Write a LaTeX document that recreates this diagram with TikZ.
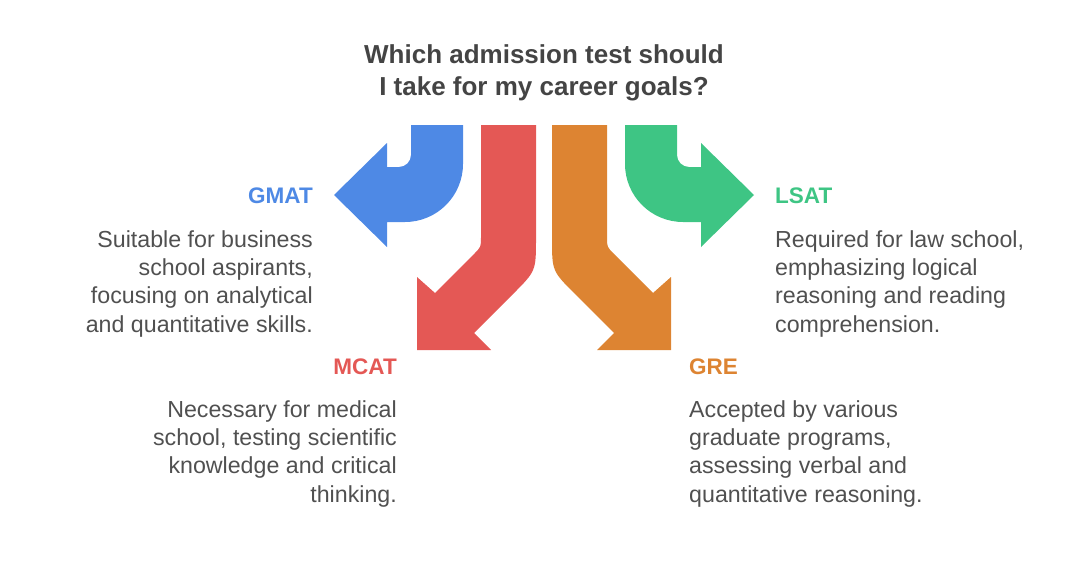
\documentclass[tikz,border=0pt]{standalone}
\usepackage{fontspec}
\setmainfont{Liberation Sans}
\definecolor{gmatblue}{HTML}{4E89E5}
\definecolor{mcatred}{HTML}{E45855}
\definecolor{greorange}{HTML}{DD8432}
\definecolor{lsatgreen}{HTML}{3EC584}
\definecolor{bodygray}{HTML}{505050}
\definecolor{titlegray}{HTML}{444444}
\begin{document}
\begin{tikzpicture}[x=1pt,y=-1pt,
    every node/.style={inner sep=0pt},
    title/.style={font=\fontsize{26}{32}\selectfont\bfseries, text=titlegray, align=center},
    testname/.style={font=\fontsize{22.5}{28}\selectfont\bfseries},
    blurb/.style={font=\fontsize{23.2}{28.3}\selectfont, text=bodygray}]
        \useasboundingbox (0,0) rectangle (1080,565);
        % title
        \node[title, anchor=base] (question) at (544,95) {Which admission test should\\I take for my career goals?};
        % arrows
        \fill [gmatblue] (411,125) -- (411,155) .. controls (411,161.6) and (405.6,167) .. (399,167) -- (387,167) -- (387,143) -- (334,195) -- (387,247) -- (387,222) -- (405,222) .. controls (437,222) and (463,196) .. (463,164) -- (463,125) -- cycle;
        \fill [mcatred] (481,125) -- (481,237) .. controls (481,247) .. (474,254) -- (435,293) -- (417,277) -- (417,350) -- (491,350) -- (474,333) -- (513,294) .. controls (536,271) .. (536,238) -- (536,125) -- cycle;
        \fill [greorange] (607,125) -- (607,237) .. controls (607,247) .. (614,254) -- (653,293) -- (671,277) -- (671,350) -- (597,350) -- (614,333) -- (575,294) .. controls (552,271) .. (552,238) -- (552,125) -- cycle;
        \fill [lsatgreen] (677,125) -- (677,155) .. controls (677,161.6) and (682.4,167) .. (689,167) -- (701,167) -- (701,143) -- (754,195) -- (701,247) -- (701,222) -- (683,222) .. controls (651,222) and (625,196) .. (625,164) -- (625,125) -- cycle;
        % labels (base anchor sits on the last line)
        \node[testname, text=gmatblue, anchor=base east] (gmat) at (313,203) {GMAT};
        \node[blurb, anchor=base east, align=right] (gmattext) at (313,332) {Suitable for business\\school aspirants,\\focusing on analytical\\and quantitative skills.};
        \node[testname, text=mcatred, anchor=base east] (mcat) at (397,374) {MCAT};
        \node[blurb, anchor=base east, align=right] (mcattext) at (397,502) {Necessary for medical\\school, testing scientific\\knowledge and critical\\thinking.};
        \node[testname, text=lsatgreen, anchor=base west] (lsat) at (775,203) {LSAT};
        \node[blurb, anchor=base west, align=left] (lsattext) at (775,332) {Required for law school,\\emphasizing logical\\reasoning and reading\\comprehension.};
        \node[testname, text=greorange, anchor=base west] (gre) at (689,374) {GRE};
        \node[blurb, anchor=base west, align=left] (gretext) at (689,502) {Accepted by various\\graduate programs,\\assessing verbal and\\quantitative reasoning.};
\end{tikzpicture}
\end{document}
